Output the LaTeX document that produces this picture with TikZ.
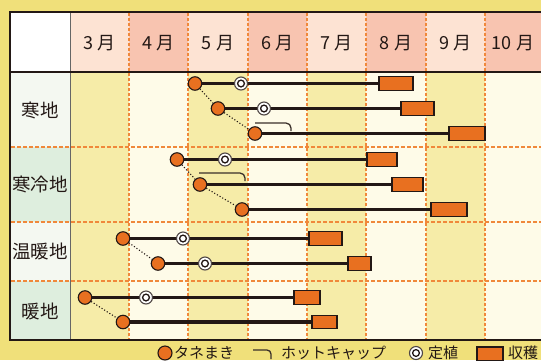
\documentclass[tikz,border=0pt]{standalone}
\usepackage{fontspec}
\setmainfont{Noto Sans CJK JP}
\usetikzlibrary{calc}
\pgfdeclarelayer{grid}
\pgfdeclarelayer{lines}
\pgfsetlayers{grid,lines,main}
\definecolor{bgy}{HTML}{F0E07A}
\definecolor{hpeach}{HTML}{FDE3D3}
\definecolor{hsalmon}{HTML}{F8C4B0}
\definecolor{byel}{HTML}{F6ECA8}
\definecolor{bcream}{HTML}{FEFBE8}
\definecolor{llight}{HTML}{F4F8F1}
\definecolor{lgreen}{HTML}{DEEEDE}
\definecolor{orng}{HTML}{E87020}
\definecolor{dashc}{HTML}{F0883A}
\definecolor{dark}{HTML}{231815}
\definecolor{hotc}{HTML}{3A302A}
\begin{document}
\begin{tikzpicture}[x=1pt,y=-1pt,
  mon/.style={font=\fontsize{18}{18}\selectfont, text=dark, inner sep=0pt},
  lab/.style={font=\fontsize{18.5}{18.5}\selectfont, text=dark, inner sep=0pt},
  leg/.style={font=\fontsize{15}{15}\selectfont, text=dark, inner sep=0pt, anchor=west},
  seed/.style={circle, fill=orng, draw=dark, line width=1.1pt, minimum size=13.5pt, inner sep=0pt},
  plant/.style={circle, fill=white, draw=dark!80, line width=1.1pt, minimum size=13pt, inner sep=0pt,
    path picture={\draw[dark, line width=1.3pt] (path picture bounding box.center) circle[radius=3.4pt];}},
  harv/.style={rectangle, fill=orng, draw=dark, line width=1.2pt, minimum height=13.5pt, inner sep=0pt},
  bar/.style={dark, line width=3.4pt},
  dots/.style={dark, dotted, line width=1.1pt},
  hot/.style={hotc, line width=1.3pt, rounded corners=5pt},
  vdash/.style={dashc, line width=1.1pt, dash pattern=on 2.5pt off 2.5pt},
  hdash/.style={dashc, line width=1.3pt, dash pattern=on 3.5pt off 2.5pt},
  frame/.style={dark, line width=2.2pt}
]
\useasboundingbox (0,0) rectangle (541,360);
\clip (0,0) rectangle (541,360);
\begin{pgfonlayer}{grid}
\fill[bgy] (0,0) rectangle (541,360);
\fill[white] (10,12) rectangle (70,72);
\foreach \a/\b/\hc/\bc in {70/129/hpeach/byel,129/188/hsalmon/bcream,188/248/hpeach/byel,248/307/hsalmon/bcream,307/366/hpeach/byel,366/426/hsalmon/bcream,426/485/hpeach/byel,485/548/hsalmon/bcream}{
  \fill[\hc] (\a,12) rectangle (\b,72);
  \fill[\bc] (\a,72) rectangle (\b,340);
}
\fill[llight] (10,72) rectangle (70,147);
\fill[lgreen] (10,147) rectangle (70,222);
\fill[llight] (10,222) rectangle (70,281);
\fill[lgreen] (10,281) rectangle (70,340);
\foreach \x in {129,188,248,307,366,426,485}{
  \draw[vdash] (\x,13) -- (\x,339);
}
\foreach \y in {147,222,281}{
  \draw[hdash] (11,\y) -- (548,\y);
}
\draw[gray!80!black, line width=1pt] (70,12) -- (70,340);
\draw[frame] (10,12) -- (548,12);
\draw[frame] (10,72) -- (548,72);
\draw[frame] (10,340) -- (548,340);
\draw[frame] (10,11) -- (10,341);
\end{pgfonlayer}

% month headers
\node[mon] (m3) at (99.5,43) {3 月};
\node[mon] (m4) at (158.5,43) {4 月};
\node[mon] (m5) at (218,43) {5 月};
\node[mon] (m6) at (277.5,43) {6 月};
\node[mon] (m7) at (336.5,43) {7 月};
\node[mon] (m8) at (396,43) {8 月};
\node[mon] (m9) at (455.5,43) {9 月};
\node[mon] (m10) at (513,43) {10 月};

% region labels
\node[lab] (r1) at (40,110) {寒地};
\node[lab] (r2) at (40,184) {寒冷地};
\node[lab] (r3) at (40,251) {温暖地};
\node[lab] (r4) at (40,311) {暖地};

% 寒地
\node[seed] (s11) at (195,83.5) {};
\node[plant] (p11) at (241,83.5) {};
\node[harv, minimum width=34pt] (h11) at (396,83.5) {};
\node[seed] (s12) at (218,108.5) {};
\node[plant] (p12) at (264,108.5) {};
\node[harv, minimum width=33pt] (h12) at (417.5,108.5) {};
\node[seed] (s13) at (255,133.5) {};
\node[harv, minimum width=36pt] (h13) at (467,133.5) {};
% 寒冷地
\node[seed] (s21) at (177,159.5) {};
\node[plant] (p21) at (225,159.5) {};
\node[harv, minimum width=30pt] (h21) at (382,159.5) {};
\node[seed] (s22) at (200,184.5) {};
\node[harv, minimum width=31pt] (h22) at (407.5,184.5) {};
\node[seed] (s23) at (242,209.5) {};
\node[harv, minimum width=36pt] (h23) at (449,209.5) {};
% 温暖地
\node[seed] (s31) at (123,238.5) {};
\node[plant] (p31) at (183,238.5) {};
\node[harv, minimum width=33pt] (h31) at (325.5,238.5) {};
\node[seed] (s32) at (158,263.5) {};
\node[plant] (p32) at (205,263.5) {};
\node[harv, minimum width=23pt] (h32) at (359.5,263.5) {};
% 暖地
\node[seed] (s41) at (85,297.5) {};
\node[plant] (p41) at (146,297.5) {};
\node[harv, minimum width=26pt] (h41) at (307,297.5) {};
\node[seed] (s42) at (123,322) {};
\node[harv, minimum width=25pt] (h42) at (324.5,322) {};

\coordinate (c13) at (255,123);
\coordinate (c22) at (199,173);

\begin{pgfonlayer}{lines}
\foreach \i in {11,12,13,21,22,23,31,32,41,42}{
  \draw[bar] (s\i.center) -- (h\i.west);
}
\draw[dots] (s11) -- (s12) -- (s13);
\draw[dots] (s21) -- (s22) -- (s23);
\draw[dots] (s31) -- (s32);
\draw[dots] (s41) -- (s42);
\draw[hot] (c13) -- ++(36,0) -- ++(0,8);
\draw[hot] (c22) -- ++(46,0) -- ++(0,8);
\end{pgfonlayer}

% legend
\node[seed, minimum size=14pt] (ls) at (165,353) {};
\node[leg] (lst) at (174,353) {タネまき};
\coordinate (lh) at (253,350);
\draw[hot, rounded corners=4pt] (lh) -- ++(18,0) -- ++(0,9);
\node[leg] (lht) at (281,353) {ホットキャップ};
\node[plant, minimum size=13pt] (lp) at (416,353) {};
\node[leg] (lpt) at (428,353) {定植};
\node[harv, minimum width=26pt, minimum height=14pt] (lb) at (490,354) {};
\node[leg] (lbt) at (508,353) {収穫};
\end{tikzpicture}
\end{document}
